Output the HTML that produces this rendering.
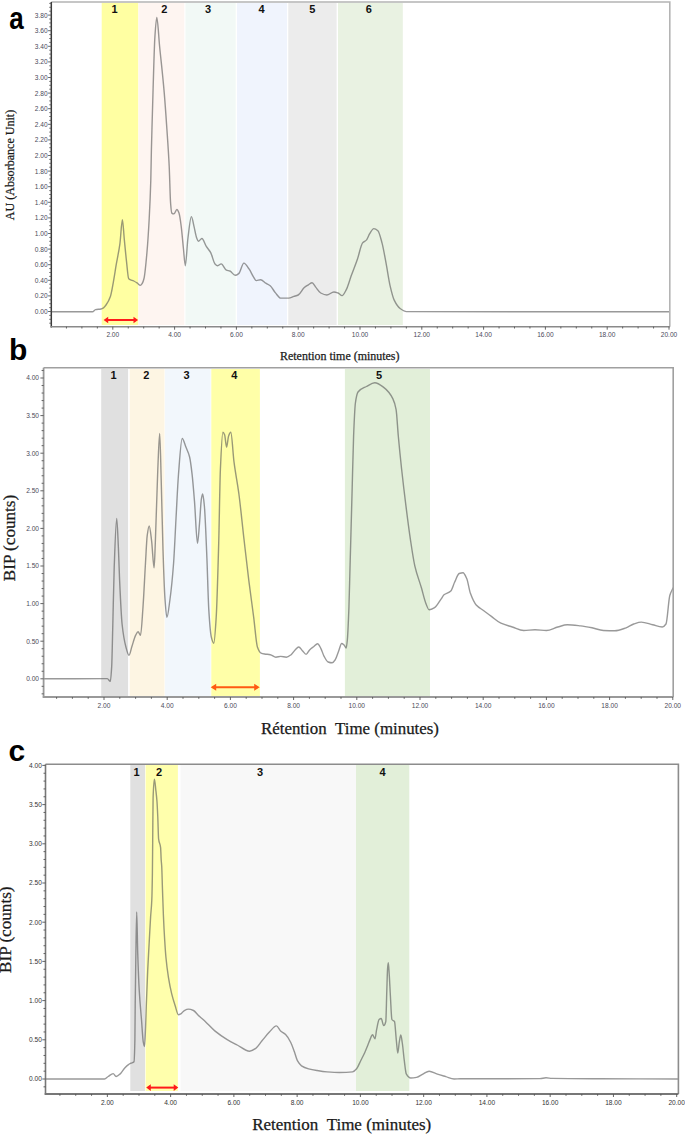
<!DOCTYPE html><html><head><meta charset="utf-8"><style>
html,body{margin:0;padding:0;background:#fff;width:685px;height:1136px;overflow:hidden}
svg{display:block}
.bl{font-family:"Liberation Sans",sans-serif;font-weight:bold;font-size:11px;fill:#111}
.tl{font-family:"Liberation Sans",sans-serif;font-size:6.6px;fill:#4a4a5a}
.pl{font-family:"Liberation Sans",sans-serif;font-weight:bold;fill:#000}
.ax{font-family:"Liberation Serif",serif;fill:#1a1a1a;stroke:#1a1a1a;stroke-width:0.25px}
</style></head><body>
<svg width="685" height="1136" viewBox="0 0 685 1136">
<rect width="685" height="1136" fill="#fff"/>
<rect x="101.7" y="2.8" width="36.6" height="322.2" fill="#ffffa2"/>
<rect x="138.6" y="2.8" width="45.7" height="322.2" fill="#fef5f1"/>
<rect x="185.5" y="2.8" width="50.2" height="322.2" fill="#f2f9f6"/>
<rect x="237" y="2.8" width="50" height="322.2" fill="#f0f4fd"/>
<rect x="288.3" y="2.8" width="48.3" height="322.2" fill="#ececec"/>
<rect x="338" y="2.8" width="64.8" height="322.2" fill="#e9f2e2"/>
<path d="M51.3 311.8C65.03 311.77 78.77 311.79 92.5 311.7C93.5 311.69 94.5 309.8 95.5 309.6C97.33 309.23 99.17 309.35 101 309C101.83 308.84 102.67 308.36 103.5 307.8C104.33 307.24 105.17 306.16 106 305C107.47 302.96 108.93 300.6 110.4 296.4C111.4 293.53 112.4 287.21 113.4 281.8C114.37 276.58 115.33 269.87 116.3 264.2C117.5 257.16 118.7 252.5 119.9 243.8C120.73 237.76 121.57 219.7 122.4 219.7C123.03 219.7 123.67 232.96 124.3 239.4C125.03 246.85 125.77 254.82 126.5 261.3C127.23 267.78 127.97 278.12 128.7 278.8C130.4 280.38 132.1 280.13 133.8 281C135 281.61 136.2 282.4 137.4 283.2C138.4 283.87 139.4 285.4 140.4 285.4C141 285.4 141.6 284.42 142.2 283.5C142.8 282.58 143.4 280.93 144 278.5C144.97 274.58 145.93 263.8 146.9 253C147.67 244.43 148.43 233.05 149.2 218.7C149.73 208.72 150.27 198.36 150.8 180C151 173.12 151.2 158.56 151.4 150C151.53 144.29 151.67 139.72 151.8 134.8C152.23 118.8 152.67 102.55 153.1 88.7C153.7 69.53 154.3 45.98 154.9 36.9C155.53 27.31 156.17 17.5 156.8 17.5C157.73 17.5 158.67 36.72 159.6 46.2C161.13 61.77 162.67 74.41 164.2 92.4C165.1 102.96 166 115.99 166.9 129.3C167.67 140.64 168.43 150.58 169.2 166.2C169.67 175.71 170.13 197.41 170.6 203.2C171 208.16 171.4 212.78 171.8 213.1C172.5 213.66 173.2 213.9 173.9 213.9C174.9 213.9 175.9 209.5 176.9 209.5C177.6 209.5 178.3 211.24 179 213.1C179.73 215.05 180.47 220.81 181.2 226.3C181.93 231.79 182.67 241.19 183.4 248.2C184.03 254.25 184.67 265.7 185.3 265.7C186.17 265.7 187.03 245.37 187.9 238.5C189.07 229.25 190.23 216.6 191.4 216.6C192.27 216.6 193.13 222.81 194 226.3C194.87 229.79 195.73 235.42 196.6 237.7C197.2 239.28 197.8 241.2 198.4 241.2C199.57 241.2 200.73 238.5 201.9 238.5C203.37 238.5 204.83 244.08 206.3 246.4C207.77 248.72 209.23 249.91 210.7 252.6C212.13 255.23 213.57 262.44 215 263.9C215.9 264.82 216.8 265.7 217.7 265.7C218.87 265.7 220.03 263.9 221.2 263.9C222.93 263.9 224.67 269.4 226.4 270.1C227.57 270.57 228.73 270.56 229.9 271C231.67 271.67 233.43 275.3 235.2 275.3C236.37 275.3 237.53 274.48 238.7 273.6C240.43 272.29 242.17 263.1 243.9 263.1C245.67 263.1 247.43 266.71 249.2 269.2C250.67 271.27 252.13 274.87 253.6 277.1C254.47 278.42 255.33 280.6 256.2 280.6C257.67 280.6 259.13 279.7 260.6 279.7C262.33 279.7 264.07 282.11 265.8 283.2C267.27 284.12 268.73 284.61 270.2 285.8C271.97 287.23 273.73 290.88 275.5 292.9C277.23 294.88 278.97 298.1 280.7 298.1C283.33 298.1 285.97 298.1 288.6 298.1C290.37 298.1 292.13 296.97 293.9 296.4C295.33 295.94 296.77 295.71 298.2 295C300.23 293.99 302.27 289.21 304.3 287.5C305.67 286.35 307.03 285.61 308.4 284.8C309.63 284.07 310.87 282.8 312.1 282.8C313.23 282.8 314.37 285.55 315.5 286.9C317.23 288.96 318.97 292.1 320.7 293C322.73 294.06 324.77 295 326.8 295C329.17 295 331.53 292 333.9 292C335.27 292 336.63 292.52 338 293C339.37 293.48 340.73 295.6 342.1 295.6C343.47 295.6 344.83 292.41 346.2 289.9C347.9 286.78 349.6 280.26 351.3 275.6C353.33 270.03 355.37 265.2 357.4 259.3C359.13 254.27 360.87 244.95 362.6 242.9C363.93 241.33 365.27 241.38 366.6 239.9C367.63 238.75 368.67 235.3 369.7 233.7C371.07 231.58 372.43 228.6 373.8 228.6C375.17 228.6 376.53 229.51 377.9 230.7C379.27 231.89 380.63 237.8 382 242.9C383.37 248 384.73 256.18 386.1 263.4C387.43 270.45 388.77 280.06 390.1 285.8C391.47 291.68 392.83 297.31 394.2 300.1C396.27 304.33 398.33 307.24 400.4 308.7C402.43 310.14 404.47 311.6 406.5 311.6C494 311.79 581.5 311.73 669 311.8" fill="none" stroke="#555" stroke-opacity="0.6" stroke-width="1.4" stroke-linejoin="round" stroke-linecap="round"/>
<text x="114.5" y="13.2" class="bl" text-anchor="middle">1</text>
<text x="164.3" y="13.2" class="bl" text-anchor="middle">2</text>
<text x="208" y="13.2" class="bl" text-anchor="middle">3</text>
<text x="261.5" y="13.2" class="bl" text-anchor="middle">4</text>
<text x="312.2" y="13.2" class="bl" text-anchor="middle">5</text>
<text x="368.7" y="13.2" class="bl" text-anchor="middle">6</text>
<path d="M51.3 2H669.8V326.7" fill="none" stroke="#b4b4b4" stroke-width="1.6"/>
<path d="M51.3 2V327.5" fill="none" stroke="#3a3a3a" stroke-width="1.5"/>
<path d="M50.5 326.7H669.8" fill="none" stroke="#8a8a8a" stroke-width="1.6"/>
<path d="M49.3 323.2H51.3M49.3 319.3H51.3M49.3 315.4H51.3M48.1 311.5H51.3M49.3 307.6H51.3M49.3 303.7H51.3M49.3 299.8H51.3M48.1 295.9H51.3M49.3 292H51.3M49.3 288.1H51.3M49.3 284.2H51.3M48.1 280.3H51.3M49.3 276.4H51.3M49.3 272.5H51.3M49.3 268.6H51.3M48.1 264.7H51.3M49.3 260.8H51.3M49.3 256.9H51.3M49.3 253H51.3M48.1 249.1H51.3M49.3 245.2H51.3M49.3 241.3H51.3M49.3 237.4H51.3M48.1 233.5H51.3M49.3 229.6H51.3M49.3 225.7H51.3M49.3 221.8H51.3M48.1 217.9H51.3M49.3 214H51.3M49.3 210.1H51.3M49.3 206.2H51.3M48.1 202.3H51.3M49.3 198.4H51.3M49.3 194.5H51.3M49.3 190.6H51.3M48.1 186.7H51.3M49.3 182.8H51.3M49.3 178.9H51.3M49.3 175H51.3M48.1 171.1H51.3M49.3 167.2H51.3M49.3 163.3H51.3M49.3 159.4H51.3M48.1 155.5H51.3M49.3 151.6H51.3M49.3 147.7H51.3M49.3 143.8H51.3M48.1 139.9H51.3M49.3 136H51.3M49.3 132.1H51.3M49.3 128.2H51.3M48.1 124.3H51.3M49.3 120.4H51.3M49.3 116.5H51.3M49.3 112.6H51.3M48.1 108.7H51.3M49.3 104.8H51.3M49.3 100.9H51.3M49.3 97H51.3M48.1 93.1H51.3M49.3 89.2H51.3M49.3 85.3H51.3M49.3 81.4H51.3M48.1 77.5H51.3M49.3 73.6H51.3M49.3 69.7H51.3M49.3 65.8H51.3M48.1 61.9H51.3M49.3 58H51.3M49.3 54.1H51.3M49.3 50.2H51.3M48.1 46.3H51.3M49.3 42.4H51.3M49.3 38.5H51.3M49.3 34.6H51.3M48.1 30.7H51.3M49.3 26.8H51.3M49.3 22.9H51.3M49.3 19H51.3M48.1 15.1H51.3M49.3 11.2H51.3M49.3 7.3H51.3M49.3 3.4H51.3" stroke="#555" stroke-width="0.9"/>
<text x="47.7" y="313.9" class="tl" text-anchor="end" style="fill:#4a4a5a">0.00</text>
<text x="47.7" y="298.3" class="tl" text-anchor="end" style="fill:#4a4a5a">0.20</text>
<text x="47.7" y="282.7" class="tl" text-anchor="end" style="fill:#4a4a5a">0.40</text>
<text x="47.7" y="267.1" class="tl" text-anchor="end" style="fill:#4a4a5a">0.60</text>
<text x="47.7" y="251.5" class="tl" text-anchor="end" style="fill:#4a4a5a">0.80</text>
<text x="47.7" y="235.9" class="tl" text-anchor="end" style="fill:#4a4a5a">1.00</text>
<text x="47.7" y="220.3" class="tl" text-anchor="end" style="fill:#4a4a5a">1.20</text>
<text x="47.7" y="204.7" class="tl" text-anchor="end" style="fill:#4a4a5a">1.40</text>
<text x="47.7" y="189.1" class="tl" text-anchor="end" style="fill:#4a4a5a">1.60</text>
<text x="47.7" y="173.5" class="tl" text-anchor="end" style="fill:#4a4a5a">1.80</text>
<text x="47.7" y="157.9" class="tl" text-anchor="end" style="fill:#4a4a5a">2.00</text>
<text x="47.7" y="142.3" class="tl" text-anchor="end" style="fill:#4a4a5a">2.20</text>
<text x="47.7" y="126.7" class="tl" text-anchor="end" style="fill:#4a4a5a">2.40</text>
<text x="47.7" y="111.1" class="tl" text-anchor="end" style="fill:#4a4a5a">2.60</text>
<text x="47.7" y="95.5" class="tl" text-anchor="end" style="fill:#4a4a5a">2.80</text>
<text x="47.7" y="79.9" class="tl" text-anchor="end" style="fill:#4a4a5a">3.00</text>
<text x="47.7" y="64.3" class="tl" text-anchor="end" style="fill:#4a4a5a">3.20</text>
<text x="47.7" y="48.7" class="tl" text-anchor="end" style="fill:#4a4a5a">3.40</text>
<text x="47.7" y="33.1" class="tl" text-anchor="end" style="fill:#4a4a5a">3.60</text>
<text x="47.7" y="17.5" class="tl" text-anchor="end" style="fill:#4a4a5a">3.80</text>
<path d="M66.45 326.7V328.5M81.9 326.7V328.5M97.35 326.7V328.5M112.8 326.7V329.7M128.25 326.7V328.5M143.7 326.7V328.5M159.15 326.7V328.5M174.6 326.7V329.7M190.05 326.7V328.5M205.5 326.7V328.5M220.95 326.7V328.5M236.4 326.7V329.7M251.85 326.7V328.5M267.3 326.7V328.5M282.75 326.7V328.5M298.2 326.7V329.7M313.65 326.7V328.5M329.1 326.7V328.5M344.55 326.7V328.5M360 326.7V329.7M375.45 326.7V328.5M390.9 326.7V328.5M406.35 326.7V328.5M421.8 326.7V329.7M437.25 326.7V328.5M452.7 326.7V328.5M468.15 326.7V328.5M483.6 326.7V329.7M499.05 326.7V328.5M514.5 326.7V328.5M529.95 326.7V328.5M545.4 326.7V329.7M560.85 326.7V328.5M576.3 326.7V328.5M591.75 326.7V328.5M607.2 326.7V329.7M622.65 326.7V328.5M638.1 326.7V328.5M653.55 326.7V328.5M669 326.7V329.7" stroke="#555" stroke-width="0.9"/>
<text x="112.8" y="337.4" class="tl" text-anchor="middle" style="fill:#4a4a5a">2.00</text>
<text x="174.6" y="337.4" class="tl" text-anchor="middle" style="fill:#4a4a5a">4.00</text>
<text x="236.4" y="337.4" class="tl" text-anchor="middle" style="fill:#4a4a5a">6.00</text>
<text x="298.2" y="337.4" class="tl" text-anchor="middle" style="fill:#4a4a5a">8.00</text>
<text x="360" y="337.4" class="tl" text-anchor="middle" style="fill:#4a4a5a">10.00</text>
<text x="421.8" y="337.4" class="tl" text-anchor="middle" style="fill:#4a4a5a">12.00</text>
<text x="483.6" y="337.4" class="tl" text-anchor="middle" style="fill:#4a4a5a">14.00</text>
<text x="545.4" y="337.4" class="tl" text-anchor="middle" style="fill:#4a4a5a">16.00</text>
<text x="607.2" y="337.4" class="tl" text-anchor="middle" style="fill:#4a4a5a">18.00</text>
<text x="669" y="337.4" class="tl" text-anchor="middle" style="fill:#4a4a5a">20.00</text>
<path d="M105.6 320H136.1" stroke="#ff1a1a" stroke-width="2"/>
<path d="M103.6 320L108.2 316.7L108.2 323.3ZM138.1 320L133.5 316.7L133.5 323.3Z" fill="#ff1a1a"/>
<text x="0" y="0" class="pl" transform="translate(9.3 29) scale(0.84 1)" style="font-size:31px">a</text>
<text x="0" y="0" class="ax" text-anchor="middle" transform="translate(13.9 165) rotate(-90)" style="font-size:12.5px" textLength="110.5" lengthAdjust="spacingAndGlyphs">AU (Absorbance Unit)</text>
<text x="280" y="360.4" class="ax" style="font-size:12.5px" textLength="119.5" lengthAdjust="spacingAndGlyphs">Retention time (minutes)</text>
<rect x="101.2" y="369" width="26.9" height="327" fill="#e0e0e0"/>
<rect x="129.7" y="369" width="34.8" height="327" fill="#fdf5e3"/>
<rect x="165" y="369" width="45.6" height="327" fill="#f2f7fc"/>
<rect x="211.3" y="369" width="48.6" height="327" fill="#ffffa8"/>
<rect x="344.9" y="369" width="85.1" height="327" fill="#e2efd9"/>
<path d="M43.6 678.8C64.83 678.73 86.07 678.6 107.3 678.6C108.3 678.6 109.3 681.4 110.3 681.4C110.77 681.4 111.23 674.39 111.7 666.4C112.03 660.69 112.37 642.43 112.7 629.5C113.2 610.11 113.7 581.42 114.2 567.7C115.03 544.83 115.87 518.5 116.7 518.5C117.27 518.5 117.83 535.94 118.4 548C118.8 556.51 119.2 571.28 119.6 580C120.43 598.17 121.27 616.58 122.1 624.3C123.33 635.72 124.57 641.89 125.8 646.5C126.87 650.49 127.93 655.3 129 655.3C129.97 655.3 130.93 649.42 131.9 646.5C133.13 642.78 134.37 637.79 135.6 635.4C136.43 633.78 137.27 631.7 138.1 631.7C138.9 631.7 139.7 635.4 140.5 635.4C141.33 635.4 142.17 618.53 143 607C143.83 595.47 144.67 576.73 145.5 562.8C146.07 553.33 146.63 539.98 147.2 535.7C147.87 530.67 148.53 526 149.2 526C150 526 150.8 534.52 151.6 540.8C152.43 547.34 153.27 567.9 154.1 567.9C154.5 567.9 154.9 552.71 155.3 543.2C156.13 523.39 156.97 488.29 157.8 469.3C158.43 454.87 159.07 433.5 159.7 433.5C160.2 433.5 160.7 462.81 161.2 480C161.8 500.63 162.4 531.68 163 550C163.63 569.34 164.27 588.61 164.9 597.6C165.57 607.06 166.23 617.3 166.9 617.3C167.9 617.3 168.9 607.25 169.9 600C171.13 591.06 172.37 579.34 173.6 563C174.4 552.4 175.2 533.18 176 518.7C176.83 503.61 177.67 484.94 178.5 474.3C179.73 458.55 180.97 438.5 182.2 438.5C183.43 438.5 184.67 444.03 185.9 447.1C187.13 450.17 188.37 452.1 189.6 457C190.43 460.31 191.27 467.14 192.1 474.3C192.9 481.18 193.7 491.45 194.5 501.4C195.5 513.84 196.5 543.3 197.5 543.3C198.17 543.3 198.83 531.08 199.5 523.6C200.13 516.49 200.77 502.48 201.4 498.9C201.83 496.45 202.27 494 202.7 494C203.27 494 203.83 500.4 204.4 506.3C205.23 514.97 206.07 538.36 206.9 558.1C207.53 573.11 208.17 599.88 208.8 609.9C209.63 623.09 210.47 633.64 211.3 637C212.13 640.36 212.97 643.2 213.8 643.2C214.6 643.2 215.4 629.91 216.2 617.3C217.03 604.16 217.87 573.02 218.7 543.3C219.27 523.09 219.83 482.22 220.4 469.3C221.23 450.3 222.07 432.3 222.9 432.3C223.47 432.3 224.03 433.48 224.6 434.8C225.27 436.36 225.93 447.1 226.6 447.1C227.27 447.1 227.93 437.74 228.6 436C229.33 434.09 230.07 432.3 230.8 432.3C231.87 432.3 232.93 453.62 234 461.9C235.63 474.58 237.27 481.69 238.9 494C240.57 506.56 242.23 523.88 243.9 538.4C245.53 552.63 247.17 567.2 248.8 580.3C250.43 593.4 252.07 604.59 253.7 617.3C254.93 626.89 256.17 643.48 257.4 646.9C258.63 650.32 259.87 652.55 261.1 653.1C262.27 653.62 263.43 653.8 264.6 654C266.5 654.32 268.4 654.33 270.3 654.7C272.17 655.06 274.03 657.2 275.9 657.2C277.5 657.2 279.1 656.4 280.7 656.4C282.57 656.4 284.43 657.2 286.3 657.2C287.9 657.2 289.5 655.88 291.1 654.7C292.43 653.72 293.77 651.18 295.1 649.9C296.3 648.75 297.5 647 298.7 647C299.93 647 301.17 649.47 302.4 650.7C303.63 651.93 304.87 654.4 306.1 654.4C307.27 654.4 308.43 651.06 309.6 649.9C310.93 648.58 312.27 647.71 313.6 646.7C314.93 645.69 316.27 643.8 317.6 643.8C318.67 643.8 319.73 646.4 320.8 648.3C321.9 650.26 323 654.42 324.1 656.4C325.43 658.8 326.77 661.53 328.1 662C329.43 662.47 330.77 662.8 332.1 662.8C333.17 662.8 334.23 661.13 335.3 659.6C336.37 658.07 337.43 654.18 338.5 651.5C339.57 648.82 340.63 643.5 341.7 643.5C342.5 643.5 343.3 644.38 344.1 645.1C344.8 645.73 345.5 648 346.2 648C346.57 648 346.93 644 347.3 640.3C347.83 634.92 348.37 622.27 348.9 608.2C349.27 598.53 349.63 581.42 350 568C350.7 542.38 351.4 516.67 352.1 491C352.6 472.67 353.1 448.35 353.6 436C354.2 421.18 354.8 407.29 355.4 403C356.27 396.81 357.13 393.13 358 392C360.8 388.36 363.6 387.97 366.4 386.5C369.2 385.03 372 382.8 374.8 382.8C377.87 382.8 380.93 385.34 384 387.6C386.93 389.77 389.87 392.87 392.8 398.6C393.9 400.75 395 403.64 396.1 409.6C396.83 413.58 397.57 427.95 398.3 436C399.4 448.07 400.5 458.85 401.6 469C403.07 482.53 404.53 494.71 406 506.4C407.47 518.09 408.93 529.62 410.4 539.4C411.87 549.18 413.33 559.39 414.8 565.8C417 575.41 419.2 580.28 421.4 587.8C422.87 592.82 424.33 599.51 425.8 603.2C426.9 605.96 428 609.8 429.1 609.8C430.93 609.8 432.77 608.71 434.6 607.6C436.8 606.27 439 601.85 441.2 598.8C442.13 597.51 443.07 595.6 444 594.8C446.27 592.86 448.53 593.16 450.8 591C452.07 589.79 453.33 584.95 454.6 582.3C456.13 579.09 457.67 574 459.2 573.5C460.47 573.09 461.73 572.8 463 572.8C464.23 572.8 465.47 575.77 466.7 578.5C467.97 581.31 469.23 590.15 470.5 593.6C472.4 598.77 474.3 602.88 476.2 605C478.73 607.82 481.27 608.8 483.8 610.7C486.33 612.6 488.87 614.54 491.4 616.4C494.57 618.72 497.73 621.74 500.9 623.2C504.7 624.95 508.5 625.79 512.3 627C516.1 628.21 519.9 630.5 523.7 630.5C527.47 630.5 531.23 629.7 535 629.7C538.8 629.7 542.6 630.5 546.4 630.5C550.2 630.5 554 628 557.8 627C560.97 626.17 564.13 624.8 567.3 624.8C571.73 624.8 576.17 625.41 580.6 625.9C584.4 626.32 588.2 627.06 592 627.8C595.8 628.54 599.6 630.32 603.4 630.5C607.2 630.68 611 630.8 614.8 630.8C618.57 630.8 622.33 629.13 626.1 627.8C628.63 626.9 631.17 624.84 633.7 624C636.23 623.16 638.77 622.1 641.3 622.1C645.1 622.1 648.9 623.91 652.7 624.8C655.87 625.54 659.03 627 662.2 627C663.47 627 664.73 625.81 666 624C667.27 622.19 668.53 599.96 669.8 595.5C670.87 591.75 671.93 590.5 673 588" fill="none" stroke="#555" stroke-opacity="0.6" stroke-width="1.4" stroke-linejoin="round" stroke-linecap="round"/>
<text x="113.6" y="378.8" class="bl" text-anchor="middle">1</text>
<text x="146.3" y="378.8" class="bl" text-anchor="middle">2</text>
<text x="186.5" y="378.8" class="bl" text-anchor="middle">3</text>
<text x="234.2" y="378.8" class="bl" text-anchor="middle">4</text>
<text x="379" y="378.8" class="bl" text-anchor="middle">5</text>
<path d="M43.6 367.8H673.2V697" fill="none" stroke="#a0a0a0" stroke-width="1.6"/>
<path d="M43.6 367.8V697.8" fill="none" stroke="#999" stroke-width="1.8"/>
<path d="M42.8 697H673.2" fill="none" stroke="#999" stroke-width="1.8"/>
<path d="M41.6 693.84H43.6M41.6 686.32H43.6M40.4 678.8H43.6M41.6 671.28H43.6M41.6 663.76H43.6M41.6 656.24H43.6M41.6 648.72H43.6M40.4 641.2H43.6M41.6 633.68H43.6M41.6 626.16H43.6M41.6 618.64H43.6M41.6 611.12H43.6M40.4 603.6H43.6M41.6 596.08H43.6M41.6 588.56H43.6M41.6 581.04H43.6M41.6 573.52H43.6M40.4 566H43.6M41.6 558.48H43.6M41.6 550.96H43.6M41.6 543.44H43.6M41.6 535.92H43.6M40.4 528.4H43.6M41.6 520.88H43.6M41.6 513.36H43.6M41.6 505.84H43.6M41.6 498.32H43.6M40.4 490.8H43.6M41.6 483.28H43.6M41.6 475.76H43.6M41.6 468.24H43.6M41.6 460.72H43.6M40.4 453.2H43.6M41.6 445.68H43.6M41.6 438.16H43.6M41.6 430.64H43.6M41.6 423.12H43.6M40.4 415.6H43.6M41.6 408.08H43.6M41.6 400.56H43.6M41.6 393.04H43.6M41.6 385.52H43.6M40.4 378H43.6M41.6 370.48H43.6" stroke="#555" stroke-width="0.9"/>
<text x="39" y="681.2" class="tl" text-anchor="end" style="fill:#4a4a5a">0.00</text>
<text x="39" y="643.6" class="tl" text-anchor="end" style="fill:#4a4a5a">0.50</text>
<text x="39" y="606" class="tl" text-anchor="end" style="fill:#4a4a5a">1.00</text>
<text x="39" y="568.4" class="tl" text-anchor="end" style="fill:#4a4a5a">1.50</text>
<text x="39" y="530.8" class="tl" text-anchor="end" style="fill:#4a4a5a">2.00</text>
<text x="39" y="493.2" class="tl" text-anchor="end" style="fill:#4a4a5a">2.50</text>
<text x="39" y="455.6" class="tl" text-anchor="end" style="fill:#4a4a5a">3.00</text>
<text x="39" y="418" class="tl" text-anchor="end" style="fill:#4a4a5a">3.50</text>
<text x="39" y="380.4" class="tl" text-anchor="end" style="fill:#4a4a5a">4.00</text>
<path d="M56.6 697V698.8M72.4 697V698.8M88.2 697V698.8M104 697V700M119.8 697V698.8M135.6 697V698.8M151.4 697V698.8M167.2 697V700M183 697V698.8M198.8 697V698.8M214.6 697V698.8M230.4 697V700M246.2 697V698.8M262 697V698.8M277.8 697V698.8M293.6 697V700M309.4 697V698.8M325.2 697V698.8M341 697V698.8M356.8 697V700M372.6 697V698.8M388.4 697V698.8M404.2 697V698.8M420 697V700M435.8 697V698.8M451.6 697V698.8M467.4 697V698.8M483.2 697V700M499 697V698.8M514.8 697V698.8M530.6 697V698.8M546.4 697V700M562.2 697V698.8M578 697V698.8M593.8 697V698.8M609.6 697V700M625.4 697V698.8M641.2 697V698.8M657 697V698.8M672.8 697V700" stroke="#555" stroke-width="0.9"/>
<text x="104" y="708.2" class="tl" text-anchor="middle" style="fill:#4a4a5a">2.00</text>
<text x="167.2" y="708.2" class="tl" text-anchor="middle" style="fill:#4a4a5a">4.00</text>
<text x="230.4" y="708.2" class="tl" text-anchor="middle" style="fill:#4a4a5a">6.00</text>
<text x="293.6" y="708.2" class="tl" text-anchor="middle" style="fill:#4a4a5a">8.00</text>
<text x="356.8" y="708.2" class="tl" text-anchor="middle" style="fill:#4a4a5a">10.00</text>
<text x="420" y="708.2" class="tl" text-anchor="middle" style="fill:#4a4a5a">12.00</text>
<text x="483.2" y="708.2" class="tl" text-anchor="middle" style="fill:#4a4a5a">14.00</text>
<text x="546.4" y="708.2" class="tl" text-anchor="middle" style="fill:#4a4a5a">16.00</text>
<text x="609.6" y="708.2" class="tl" text-anchor="middle" style="fill:#4a4a5a">18.00</text>
<text x="672.8" y="708.2" class="tl" text-anchor="middle" style="fill:#4a4a5a">20.00</text>
<path d="M212.7 687.3H257.7" stroke="#ff5a12" stroke-width="2"/>
<path d="M210.7 687.3L216.2 683.8L216.2 690.8ZM259.7 687.3L254.2 683.8L254.2 690.8Z" fill="#ff5a12"/>
<text x="0" y="0" class="pl" transform="translate(9 359.5) scale(1 1)" style="font-size:30px">b</text>
<text x="0" y="0" class="ax" text-anchor="middle" transform="translate(15.3 538) rotate(-90)" style="font-size:16px" textLength="86.5" lengthAdjust="spacingAndGlyphs">BIP (counts)</text>
<text x="261" y="734.2" class="ax" style="font-size:16.2px" textLength="178" lengthAdjust="spacingAndGlyphs">Rétention&#160;&#160;Time (minutes)</text>
<rect x="130.3" y="765" width="14.7" height="326" fill="#e0e0e0"/>
<rect x="145.6" y="765" width="32.3" height="326" fill="#ffffac"/>
<rect x="180.6" y="765" width="175.4" height="326" fill="#f8f8f8"/>
<rect x="356" y="765" width="53.3" height="326" fill="#e2efd9"/>
<path d="M45.5 1079C65.17 1079 84.83 1079 104.5 1079C105.73 1079 106.97 1077.27 108.2 1076.5C109.87 1075.46 111.53 1073.6 113.2 1073.6C114.17 1073.6 115.13 1076.5 116.1 1076.5C117.57 1076.5 119.03 1074.88 120.5 1073.6C122 1072.29 123.5 1069.27 125 1067.7C126.17 1066.48 127.33 1065.39 128.5 1064.6C129.33 1064.04 130.17 1063.64 131 1063.2C132 1062.67 133 1062.88 134 1061.7C134.3 1061.34 134.6 1052.99 134.9 1039.2C135 1034.6 135.1 1014.07 135.2 1004.8C135.4 986.25 135.6 972.48 135.8 959.9C136.1 941.03 136.4 912 136.7 912C137.03 912 137.37 941.96 137.7 952.4C138.2 968.07 138.7 981.04 139.2 989.8C139.97 1003.23 140.73 1010.04 141.5 1019.8C142.1 1027.43 142.7 1038.98 143.3 1042.2C143.7 1044.35 144.1 1046.5 144.5 1046.5C144.87 1046.5 145.23 1035.21 145.6 1026.8C145.83 1021.45 146.07 1012.08 146.3 1005.6C146.77 992.64 147.23 980.44 147.7 970.4C148.2 959.65 148.7 951.51 149.2 942.3C149.67 933.7 150.13 924.28 150.6 916.9C151 910.58 151.4 909.11 151.8 900C152 895.44 152.2 886.4 152.4 873C152.5 866.3 152.6 850.79 152.7 840C152.83 825.61 152.97 801.58 153.1 797.7C153.53 785.08 153.97 779.1 154.4 779.1C154.87 779.1 155.33 785.76 155.8 789.8C156.2 793.26 156.6 796.3 157 801.7C157.27 805.3 157.53 811.44 157.8 817.5C158.07 823.56 158.33 836.68 158.6 838.9C159.27 844.46 159.93 842.17 160.6 847.6C160.8 849.23 161 856.99 161.2 860C161.37 862.51 161.53 863.23 161.7 866C161.97 870.43 162.23 882.37 162.5 890.1C162.8 898.8 163.1 908.28 163.4 915.2C163.83 925.2 164.27 933.31 164.7 940.3C165.1 946.76 165.5 952.79 165.9 957C166.73 965.77 167.57 971.87 168.4 977.1C169.5 984 170.6 989.29 171.7 993.8C172.83 998.45 173.97 1002.01 175.1 1005.5C176.2 1008.89 177.3 1014.7 178.4 1014.7C179.23 1014.7 180.07 1014.23 180.9 1013.8C182.03 1013.22 183.17 1011.07 184.3 1010.5C185.7 1009.79 187.1 1009.1 188.5 1009.1C190.17 1009.1 191.83 1009.77 193.5 1010.5C195.17 1011.23 196.83 1013.92 198.5 1015.5C200.67 1017.55 202.83 1019.28 205 1021.3C208.27 1024.34 211.53 1028.21 214.8 1030.9C218.93 1034.3 223.07 1037.09 227.2 1039.6C230.53 1041.62 233.87 1043.27 237.2 1045C241.33 1047.15 245.47 1051.2 249.6 1051.2C251.67 1051.2 253.73 1049.69 255.8 1048.3C257.87 1046.91 259.93 1043.27 262 1040.8C264.47 1037.86 266.93 1034.59 269.4 1032.1C271.73 1029.75 274.07 1025.9 276.4 1025.9C277.8 1025.9 279.2 1029.61 280.6 1030.9C282.27 1032.43 283.93 1032.94 285.6 1034.6C287.23 1036.22 288.87 1038.89 290.5 1042C291.77 1044.41 293.03 1048.05 294.3 1051.5C295.33 1054.31 296.37 1058.85 297.4 1060.7C298.77 1063.14 300.13 1064.9 301.5 1065.8C303.87 1067.36 306.23 1068.14 308.6 1068.8C311.33 1069.57 314.07 1070.05 316.8 1070.5C320.2 1071.07 323.6 1071.65 327 1071.9C331.1 1072.2 335.2 1072.5 339.3 1072.5C343.73 1072.5 348.17 1072.35 352.6 1071.9C353.93 1071.76 355.27 1070.28 356.6 1068.8C357.97 1067.28 359.33 1063.42 360.7 1060.7C362.07 1057.98 363.43 1055.51 364.8 1052.5C365.7 1050.52 366.6 1048.23 367.5 1046C368.3 1044.02 369.1 1041.67 369.9 1039.9C370.77 1037.98 371.63 1034.8 372.5 1034.8C373.33 1034.8 374.17 1038.9 375 1038.9C375.53 1038.9 376.07 1032.28 376.6 1029.7C377.43 1025.67 378.27 1020.19 379.1 1019.5C379.8 1018.92 380.5 1018.5 381.2 1018.5C382.03 1018.5 382.87 1025.6 383.7 1025.6C384.4 1025.6 385.1 1024.37 385.8 1021.5C386.13 1020.13 386.47 1000.65 386.8 990.9C387.07 983.1 387.33 971.68 387.6 968.4C387.83 965.53 388.07 962.8 388.3 962.8C388.63 962.8 388.97 970.48 389.3 975.5C389.67 981.02 390.03 989.73 390.4 996C390.9 1004.55 391.4 1018.7 391.9 1019.5C392.77 1020.88 393.63 1020.19 394.5 1021.5C395.1 1022.41 395.7 1034.37 396.3 1040C396.8 1044.69 397.3 1053 397.8 1053C398.3 1053 398.8 1044.85 399.3 1042C399.8 1039.15 400.3 1035 400.8 1035C401.3 1035 401.8 1039.71 402.3 1043C402.97 1047.39 403.63 1055.66 404.3 1060.7C404.97 1065.74 405.63 1072.72 406.3 1073.9C407.8 1076.56 409.3 1078 410.8 1078C412.73 1078 414.67 1077.73 416.6 1077.4C418.7 1077.04 420.8 1075.14 422.9 1074.1C424.97 1073.08 427.03 1071.2 429.1 1071.2C431.87 1071.2 434.63 1073.21 437.4 1074.1C440.2 1075 443 1075.78 445.8 1076.6C448.57 1077.41 451.33 1079 454.1 1079C456.17 1079 458.23 1078.81 460.3 1078.8C486.87 1078.64 513.43 1078.78 540 1078.6C542 1078.59 544 1077.8 546 1077.8C548 1077.8 550 1078.36 552 1078.4C568 1078.72 584 1078.73 600 1078.8C625.83 1078.91 651.67 1078.93 677.5 1079" fill="none" stroke="#555" stroke-opacity="0.6" stroke-width="1.4" stroke-linejoin="round" stroke-linecap="round"/>
<text x="136.6" y="776.3" class="bl" text-anchor="middle">1</text>
<text x="159.1" y="776.3" class="bl" text-anchor="middle">2</text>
<text x="260" y="776.3" class="bl" text-anchor="middle">3</text>
<text x="382.5" y="776.3" class="bl" text-anchor="middle">4</text>
<path d="M45.5 764.3H678.4V1094" fill="none" stroke="#8c8c8c" stroke-width="1.6"/>
<path d="M45.5 764.3V1094.8" fill="none" stroke="#777" stroke-width="1.6"/>
<path d="M44.7 1094H678.4" fill="none" stroke="#777" stroke-width="1.8"/>
<path d="M43.5 1086.84H45.5M42.3 1079H45.5M43.5 1071.16H45.5M43.5 1063.32H45.5M43.5 1055.48H45.5M43.5 1047.64H45.5M42.3 1039.8H45.5M43.5 1031.96H45.5M43.5 1024.12H45.5M43.5 1016.28H45.5M43.5 1008.44H45.5M42.3 1000.6H45.5M43.5 992.76H45.5M43.5 984.92H45.5M43.5 977.08H45.5M43.5 969.24H45.5M42.3 961.4H45.5M43.5 953.56H45.5M43.5 945.72H45.5M43.5 937.88H45.5M43.5 930.04H45.5M42.3 922.2H45.5M43.5 914.36H45.5M43.5 906.52H45.5M43.5 898.68H45.5M43.5 890.84H45.5M42.3 883H45.5M43.5 875.16H45.5M43.5 867.32H45.5M43.5 859.48H45.5M43.5 851.64H45.5M42.3 843.8H45.5M43.5 835.96H45.5M43.5 828.12H45.5M43.5 820.28H45.5M43.5 812.44H45.5M42.3 804.6H45.5M43.5 796.76H45.5M43.5 788.92H45.5M43.5 781.08H45.5M43.5 773.24H45.5M42.3 765.4H45.5" stroke="#555" stroke-width="0.9"/>
<text x="41.9" y="1081.4" class="tl" text-anchor="end" style="fill:#333">0.00</text>
<text x="41.9" y="1042.2" class="tl" text-anchor="end" style="fill:#333">0.50</text>
<text x="41.9" y="1003" class="tl" text-anchor="end" style="fill:#333">1.00</text>
<text x="41.9" y="963.8" class="tl" text-anchor="end" style="fill:#333">1.50</text>
<text x="41.9" y="924.6" class="tl" text-anchor="end" style="fill:#333">2.00</text>
<text x="41.9" y="885.4" class="tl" text-anchor="end" style="fill:#333">2.50</text>
<text x="41.9" y="846.2" class="tl" text-anchor="end" style="fill:#333">3.00</text>
<text x="41.9" y="807" class="tl" text-anchor="end" style="fill:#333">3.50</text>
<text x="41.9" y="767.8" class="tl" text-anchor="end" style="fill:#333">4.00</text>
<path d="M59.91 1094V1095.8M75.73 1094V1095.8M91.55 1094V1095.8M107.36 1094V1097M123.18 1094V1095.8M138.99 1094V1095.8M154.81 1094V1095.8M170.62 1094V1097M186.44 1094V1095.8M202.25 1094V1095.8M218.06 1094V1095.8M233.88 1094V1097M249.69 1094V1095.8M265.51 1094V1095.8M281.32 1094V1095.8M297.14 1094V1097M312.96 1094V1095.8M328.77 1094V1095.8M344.59 1094V1095.8M360.4 1094V1097M376.22 1094V1095.8M392.03 1094V1095.8M407.85 1094V1095.8M423.66 1094V1097M439.48 1094V1095.8M455.29 1094V1095.8M471.11 1094V1095.8M486.92 1094V1097M502.74 1094V1095.8M518.55 1094V1095.8M534.37 1094V1095.8M550.18 1094V1097M566 1094V1095.8M581.81 1094V1095.8M597.62 1094V1095.8M613.44 1094V1097M629.25 1094V1095.8M645.07 1094V1095.8M660.88 1094V1095.8M676.7 1094V1097" stroke="#555" stroke-width="0.9"/>
<text x="107.36" y="1104.5" class="tl" text-anchor="middle" style="fill:#333">2.00</text>
<text x="170.62" y="1104.5" class="tl" text-anchor="middle" style="fill:#333">4.00</text>
<text x="233.88" y="1104.5" class="tl" text-anchor="middle" style="fill:#333">6.00</text>
<text x="297.14" y="1104.5" class="tl" text-anchor="middle" style="fill:#333">8.00</text>
<text x="360.4" y="1104.5" class="tl" text-anchor="middle" style="fill:#333">10.00</text>
<text x="423.66" y="1104.5" class="tl" text-anchor="middle" style="fill:#333">12.00</text>
<text x="486.92" y="1104.5" class="tl" text-anchor="middle" style="fill:#333">14.00</text>
<text x="550.18" y="1104.5" class="tl" text-anchor="middle" style="fill:#333">16.00</text>
<text x="613.44" y="1104.5" class="tl" text-anchor="middle" style="fill:#333">18.00</text>
<text x="676.7" y="1104.5" class="tl" text-anchor="middle" style="fill:#333">20.00</text>
<path d="M148.2 1087.6H176.3" stroke="#ff1a1a" stroke-width="2"/>
<path d="M146.2 1087.6L150.8 1084.3L150.8 1090.9ZM178.3 1087.6L173.7 1084.3L173.7 1090.9Z" fill="#ff1a1a"/>
<text x="0" y="0" class="pl" transform="translate(8.6 760.7) scale(1 1)" style="font-size:30px">c</text>
<text x="0" y="0" class="ax" text-anchor="middle" transform="translate(11.2 929.7) rotate(-90)" style="font-size:16px" textLength="86.5" lengthAdjust="spacingAndGlyphs">BIP (counts)</text>
<text x="252.2" y="1130.4" class="ax" style="font-size:16.2px" textLength="179" lengthAdjust="spacingAndGlyphs">Retention&#160;&#160;Time (minutes)</text>
</svg></body></html>
